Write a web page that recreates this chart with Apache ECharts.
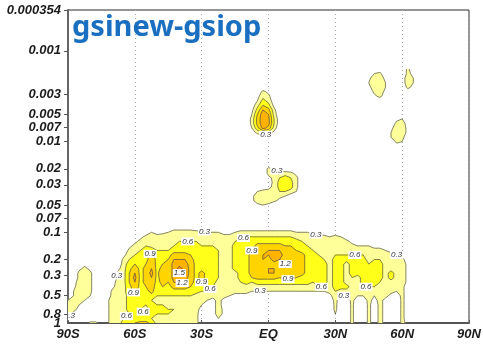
<!DOCTYPE html>
<html>
<head>
<meta charset="utf-8">
<script src="https://cdn.jsdelivr.net/npm/echarts@6/dist/echarts.min.js"></script>
<style>
  html, body { margin: 0; padding: 0; background: #fff; }
  #chart { width: 483px; height: 345px; }
</style>
</head>
<body>
<div id="chart"></div>
<script>
// Zonal-mean difference field, gsinew minus gsiop, latitude against pressure (log scale).

// Grid: latitude every 2.5 degrees from 90S, vertical spacing 0.05 decade of pressure.
const latStart = -90;
const latStep = 2.5;
const logStep = 0.05;
const bottomPressure = 1;

// One string per latitude (90S .. 90N). Each string is read downward and its last
// character sits at the bottom level (p = 1); levels above the string are zero.
// Characters are tenths: '.' = 0, '1'..'9' = 0.1..0.9, 'A' = 1.0, 'B' = 1.1 ... 'G' = 1.6.
// Spaces only group characters and are ignored.
const fieldColumns = [
  "..................344432",
  "..............223344421.",
  "...........2444554432...",
  "..........2455555432....",
  "...........24444431....4",
  "4",
  "",
  "1222222",
  "1244555555",
  "2445555555555",
  "2455555555555567",
  "245678999887777668",
  "245679BCDCBA8777779",
  "2456778888887766667A",
  "14567889AAAA98766567A",
  "34558ABBCDCBAA8677668",
  "245567888888876567655",
  "25556789ACBA986567655",
  "3555689AAAA9876556655",
  "245568ACDDDDCA86556555",
  "245678ACEGFEDA86555555",
  "245678ACDEEDCA86555555",
  "2456789ABBBBA976555555",
  "1456678888888875444444",
  "1455678888AA9865432111",
  "355677777887764321...",
  "3556777777776542111..",
  "34556666666555445553.",
  "2444555555555542122..",
  "2455555555555431.....",
  "1356777777555442......",
  "1457788888776542......",
  "1467888888877542......",
  "1234431 ..... ..... ... 22... ..146789AAAAA96531......",
  "23579AA84 ..... ..... .. 3552.. ..1468AABBAAAA7531......",
  "4579CEEED61 ..... ..... 14553.. ..1468ABCCBBBA7531......",
  "2457ACDDB5 ..... .. 442124552.. ..1468ACCBBCCA7531......",
  "12456652 ..... .. 34444554... ..1468ACDDBCCA7531......",
  "11 ..... ..... 4677642... ..1468ACDCBBA97531......",
  "577863.... ..14689ABBCBAA7531......",
  "467751.... ..14679AABBAAA7531......",
  "24443..... ...35789AAAAA97531......",
  "35678AAAAA87531......",
  "345678888887531......",
  "245567777776531......",
  "245556777777631......",
  "145555677777631......",
  "1345555555555421.....",
  "14555677777776544431.",
  "1355567777777531.....",
  "145567555557531.....",
  "2456777765544444444",
  "13567777554431.....",
  "3567777776531.....",
  "232 ..... ..... ..... ..... ..... ... ......345567777654444444",
  "355542 ..... ..... ..... ..... ..... . ......245677777653211111",
  "455554 ..... ..... ..... ..... ..... . ......245677776544444444",
  "23321 ..... ..... ..... ..... ..... . ......135555555544222222",
  "233 ..... ..... ..... .. .......24555775542111111",
  "2455541 ..... ..... ..... .......23455555431......",
  "11 ..... .. 355543 ..... ..... ..... . ........2455555444444444",
  "445541 ..... . 1221 ..... ..... ..... .. .........122222111111112",
  "2332 ..... ..... ..... ..... ..... ..... ..... ..... ..... ..... ..",
  "", "", "", "", "", "", "", "", "", ""
];

const contourLevels = [0.3, 0.6, 0.9, 1.2, 1.5];

const latTicks = [-90, -60, -30, 0, 30, 60, 90];
const latTickLabels = ['90S', '60S', '30S', 'EQ', '30N', '60N', '90N'];
const pressureTickLabels = ['0.000354', '0.001', '0.003', '0.005', '0.007', '0.01', '0.02', '0.03',
  '0.05', '0.07', '0.1', '0.2', '0.3', '0.5', '0.8', '1'];

// Where each contour value is written: [level, latitude, log10(p)]; snapped onto that contour.
const contourLabelSpots = [
  [0.3, -1.4, -2.02], [0.3, 4.5, -1.65],
  [0.3, -30.2, -0.97], [0.6, -35.1, -0.82], [0.9, -53.1, -0.77], [0.3, -67.5, -0.505],
  [0.9, -60.3, -0.30], [1.5, -44.1, -0.37], [1.2, -38.3, -0.37], [0.9, -30.2, -0.36],
  [0.6, -24.8, -0.36], [0.6, -63.5, -0.08], [0.6, -58.0, -0.08], [0.3, -88.2, -0.07],
  [0.6, -11.7, -0.90], [0.9, -6.8, -0.78], [1.2, 10.8, -0.74], [0.9, 9.0, -0.46],
  [0.3, -3.6, -0.41], [0.3, 19.8, -0.93], [0.6, 24.3, -0.42], [0.6, 40.0, -0.70],
  [0.3, 58.0, -0.74], [0.6, 45.0, -0.35], [0.3, 33.3, -0.26]
];

// ---- styles ----
const fillColors = ['#ffff99', '#ffff1a', '#ffd400', '#ffb300', '#ff8c00'];
const lineColor = '#505050';
const axisFont = { fontFamily: 'Liberation Sans', fontWeight: 'bold', fontStyle: 'italic', fontSize: 13, color: '#1c1c1c' };

// ---- grid decoding ----
function charValue(ch) {
  if (ch === '.') return 0;
  const code = ch.charCodeAt(0);
  return code <= 57 ? (code - 48) / 10 : (code - 55) / 10;
}
const columns = fieldColumns.map(s => s.replace(/\s+/g, ''));
const nCols = columns.length;
const nRows = Math.max(...columns.map(s => s.length));
const field = [];
for (let r = 0; r < nRows; r++) field.push(new Array(nCols).fill(0));
columns.forEach((s, c) => {
  for (let k = 0; k < s.length; k++) {
    const r = nRows - s.length + k;
    field[r][c] = charValue(s[k]);
  }
});
const latOf = c => latStart + c * latStep;
const levelOf = r => Math.log10(bottomPressure) - (nRows - 1 - r) * logStep;

// ---- filled contours and contour lines, cell by cell ----
const fills = contourLevels.map(() => []);
const segments = contourLevels.map(() => []);
for (let r = 0; r < nRows - 1; r++) {
  for (let c = 0; c < nCols - 1; c++) {
    const P = [[latOf(c), levelOf(r)], [latOf(c + 1), levelOf(r)],
               [latOf(c + 1), levelOf(r + 1)], [latOf(c), levelOf(r + 1)]];
    const V = [field[r][c], field[r][c + 1], field[r + 1][c + 1], field[r + 1][c]];
    const vmax = Math.max(...V);
    contourLevels.forEach((t, k) => {
      if (vmax < t) return;
      const poly = [];
      const cross = [];
      for (let i = 0; i < 4; i++) {
        const j = (i + 1) % 4;
        const a = V[i] - t, b = V[j] - t;
        if (a >= 0) poly.push(P[i]);
        if ((a >= 0) !== (b >= 0)) {
          const f = a / (a - b);
          const q = [P[i][0] + (P[j][0] - P[i][0]) * f, P[i][1] + (P[j][1] - P[i][1]) * f];
          poly.push(q);
          cross.push({ q, exit: a >= 0 });
        }
      }
      if (poly.length >= 3) fills[k].push(poly);
      for (let i = 0; i < cross.length; i++) {
        if (cross[i].exit) segments[k].push([cross[i].q, cross[(i + 1) % cross.length].q]);
      }
    });
  }
}

function renderItem(params, api) {
  const children = [];
  const px = p => api.coord(p);
  fills.forEach((polys, k) => {
    polys.forEach(poly => {
      children.push({
        type: 'polygon', silent: true,
        shape: { points: poly.map(px) },
        style: { fill: fillColors[k], stroke: fillColors[k], lineWidth: 0.6 }
      });
    });
  });
  const pxSegments = segments.map(list => list.map(s => [px(s[0]), px(s[1])]));
  pxSegments.forEach(list => {
    list.forEach(s => {
      children.push({
        type: 'line', silent: true,
        shape: { x1: s[0][0], y1: s[0][1], x2: s[1][0], y2: s[1][1] },
        style: { stroke: lineColor, lineWidth: 0.7 }
      });
    });
  });
  contourLabelSpots.forEach(spot => {
    const k = contourLevels.indexOf(spot[0]);
    const target = px([spot[1], spot[2]]);
    let best = null, bestD = Infinity;
    pxSegments[k].forEach(s => {
      const mx = (s[0][0] + s[1][0]) / 2, my = (s[0][1] + s[1][1]) / 2;
      const d = (mx - target[0]) ** 2 + (my - target[1]) ** 2;
      if (d < bestD) { bestD = d; best = [mx, my]; }
    });
    if (!best) return;
    children.push({
      type: 'text', silent: true, z2: 10,
      x: best[0], y: best[1],
      style: {
        text: spot[0].toFixed(1), fill: '#333', font: 'italic 8px "Liberation Sans"',
        align: 'center', verticalAlign: 'middle', backgroundColor: '#fff', padding: [0, 1]
      }
    });
  });
  return { type: 'group', children };
}

const pressureTickLogs = pressureTickLabels.map(s => Math.log10(parseFloat(s)));
const labelForLog = v => {
  const i = pressureTickLogs.findIndex(t => Math.abs(t - v) < 1e-9);
  return i >= 0 ? pressureTickLabels[i] : '';
};
// the bottom label ("1") sits on its own axis so that it may overlap "0.8"
const upperTickLogs = pressureTickLogs.slice(0, -1);
const bottomTickLogs = pressureTickLogs.slice(-1);

const yBase = {
  type: 'value', inverse: true, min: pressureTickLogs[0], max: 0, position: 'left',
  splitLine: { show: false }
};

const chart = echarts.init(document.getElementById('chart'), null, { renderer: 'canvas' });
chart.setOption({
  animation: false,
  backgroundColor: '#fff',
  grid: {
    left: 68, top: 10, width: 401, height: 313,
    show: true, borderColor: '#2a2a2a', borderWidth: 1, backgroundColor: 'transparent',
    outerBoundsMode: 'none', containLabel: false
  },
  xAxis: {
    type: 'value', min: latTicks[0], max: latTicks[latTicks.length - 1], interval: 30,
    axisLine: { show: true, onZero: false, lineStyle: { color: '#555', width: 2 } },
    axisTick: { show: true, inside: true, length: 3, lineStyle: { color: '#555' } },
    axisLabel: Object.assign({ margin: 5, hideOverlap: false, showMinLabel: true, showMaxLabel: true,
      formatter: v => latTickLabels[latTicks.indexOf(v)] || '' }, axisFont),
    splitLine: { show: true, lineStyle: { type: [1, 3], color: '#a8a8a8', width: 1 } }
  },
  yAxis: [
    Object.assign({}, yBase, {
      axisLine: { show: true, onZero: false, lineStyle: { color: '#666', width: 2 } },
      axisTick: { show: true, length: 4, customValues: upperTickLogs, lineStyle: { color: '#555' } },
      axisLabel: Object.assign({ margin: 7, hideOverlap: false, showMinLabel: true, showMaxLabel: true,
        customValues: upperTickLogs, formatter: labelForLog }, axisFont)
    }),
    Object.assign({}, yBase, {
      axisLine: { show: false },
      axisTick: { show: true, length: 4, customValues: bottomTickLogs, lineStyle: { color: '#555' } },
      axisLabel: Object.assign({ margin: 7, hideOverlap: false, showMinLabel: true, showMaxLabel: true,
        customValues: bottomTickLogs, formatter: labelForLog }, axisFont)
    })
  ],
  graphic: [{
    type: 'text', left: 72, top: 13, z: 20,
    style: { text: 'gsinew-gsiop', font: 'bold 29px "Noto Sans"', fill: '#1a6fc0' }
  }],
  series: [{
    type: 'custom', coordinateSystem: 'cartesian2d', xAxisIndex: 0, yAxisIndex: 0, data: [[0, -1]],
    renderItem, clip: true, silent: true, z: 2
  }]
});
</script>
</body>
</html>
